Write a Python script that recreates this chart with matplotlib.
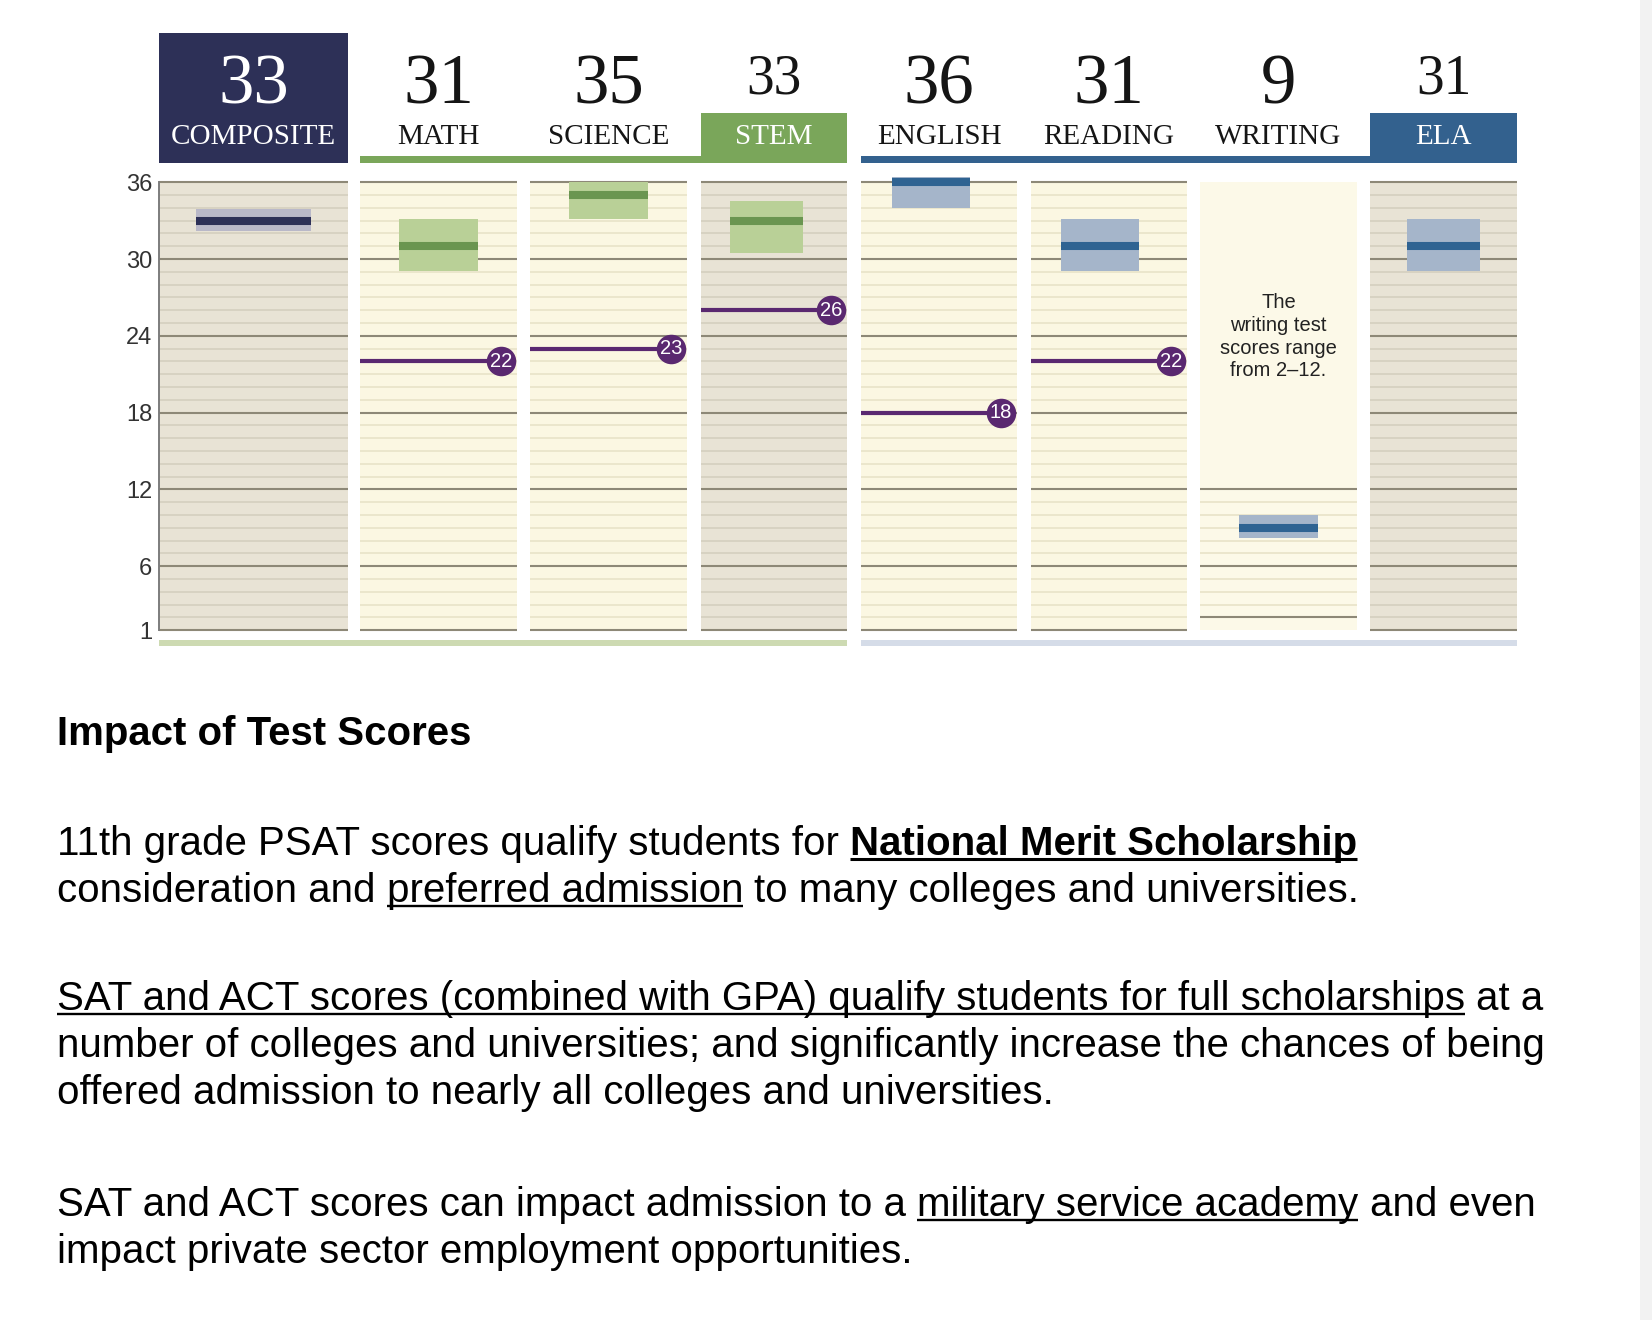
import matplotlib.pyplot as plt
from matplotlib.patches import Rectangle

# ---- data ----
subjects = ["COMPOSITE", "MATH", "SCIENCE", "STEM", "ENGLISH", "READING", "WRITING", "ELA"]
scores = [33, 31, 35, 33, 36, 31, 9, 31]
band_low = [32.2, 29.1, 33.1, 30.5, 34.0, 29.1, 8.2, 29.1]
band_high = [33.9, 33.1, 36.0, 34.5, 36.4, 33.1, 10.0, 33.1]
benchmarks = [None, 22, 23, 26, 18, 22, None, None]
y_ticks = [1, 6, 12, 18, 24, 30, 36]
writing_note = "The\nwriting test\nscores range\nfrom 2\u201312."

title = "Impact of Test Scores"
# each line: (text, bold, underlined, space before)
paragraphs = [
    [[("11th grade PSAT scores qualify students for", False, False, False),
      ("National Merit Scholarship", True, True, True)],
     [("consideration and", False, False, False),
      ("preferred admission", False, True, True),
      ("to many colleges and universities.", False, False, True)]],
    [[("SAT and ACT scores (combined with GPA) qualify students for full scholarships", False, True, False),
      ("at a", False, False, True)],
     [("number of colleges and universities; and significantly increase the chances of being", False, False, False)],
     [("offered admission to nearly all colleges and universities.", False, False, False)]],
    [[("SAT and ACT scores can impact admission to a", False, False, False),
      ("military service academy", False, True, True),
      ("and even", False, False, True)],
     [("impact private sector employment opportunities.", False, False, False)]],
]
line_baselines = [[855, 902], [1010, 1057, 1104], [1216, 1263]]

# ---- layout / style ----
W, H = 1652, 1320
col_left = [159, 360, 530, 701, 861, 1031, 1200, 1370]
col_right = [348, 517, 687, 847, 1017, 1187, 1357, 1517]
band_shift = [0, 0, 0, -8, -8, -9, 0, 0]
col_bg = ["#e8e3d5", "#fbf7e2", "#fbf7e2", "#e8e3d5", "#fbf7e2", "#fbf7e2", "#fcf9e8", "#e8e3d5"]
minor_col = {"#e8e3d5": "#d3cdbd", "#fbf7e2": "#e7e1c6", "#fcf9e8": "#e7e1c6"}
major_col = "#8d8877"
navy = "#2d3057"
green = "#7aa65a"
blue = "#33618e"
purple = "#5a2870"
band_col = ["#b9b8c8", "#b9d097", "#b9d097", "#b9d097", "#a5b5ca", "#a5b5ca", "#a5b5ca", "#a5b5ca"]
line_col = [navy, "#6a9550", "#6a9550", "#6a9550", "#2f6392", "#2f6392", "#2f6392", "#2f6392"]
band_frac = [0.61, 0.5, 0.5, 0.5, 0.5, 0.5, 0.5, 0.5]

serif = "Liberation Serif"
narrow = ["Liberation Sans Narrow", "Liberation Sans"]

fig = plt.figure(figsize=(W / 100, H / 100), dpi=100)
lay = fig.add_axes([0, 0, 1, 1], zorder=0)
lay.set_xlim(0, W)
lay.set_ylim(H, 0)
lay.axis("off")

top_px, bot_px = 182.3, 630.1
ax = fig.add_axes([col_left[0] / W, 1 - bot_px / H, (col_right[-1] - col_left[0]) / W,
                   (bot_px - top_px) / H], zorder=2)
ax.patch.set_alpha(0)
ax.set_xlim(col_left[0], col_right[-1])
ax.set_ylim(1, 36)

# ---- columns ----
for i, name in enumerate(subjects):
    l, r = col_left[i], col_right[i]
    ax.add_patch(Rectangle((l, 1), r - l, 35, color=col_bg[i], zorder=0, lw=0))
    levels = range(2, 13) if name == "WRITING" else range(1, 37)
    for v in levels:
        major = v % 6 == 0 or v in (1, 36) or (name == "WRITING" and v == 2)
        ax.hlines(v, l, r, colors=major_col if major else minor_col[col_bg[i]],
                  lw=1.5 if major else 1.1, zorder=1.5 if major else 1, clip_on=False)
    c = (l + r) / 2 + band_shift[i]
    bw = (r - l) * band_frac[i]
    ax.bar(c, band_high[i] - band_low[i], bottom=band_low[i], width=bw,
           color=band_col[i], zorder=2, clip_on=False)
    ax.hlines(scores[i], c - bw / 2, c + bw / 2, colors=line_col[i], lw=5.8, zorder=3, clip_on=False)
    if benchmarks[i] is not None:
        cx = r - 16
        ax.hlines(benchmarks[i], l, cx, colors=purple, lw=3, zorder=4)
        ax.scatter([cx], [benchmarks[i]], s=410, color=purple, zorder=5, clip_on=False)
        ax.text(cx, benchmarks[i], str(benchmarks[i]), color="white", fontsize=14.5,
                family=narrow, ha="center", va="center", zorder=6)

ax.set_xticks([])
ax.set_yticks(y_ticks)
ax.set_yticklabels([str(v) for v in y_ticks], family=narrow)
ax.tick_params(axis="y", length=0, pad=5, labelsize=17, labelcolor="#333333")
for s in ["top", "right", "bottom"]:
    ax.spines[s].set_visible(False)
ax.spines["left"].set_color("#7d7d7d")
ax.spines["left"].set_linewidth(1.4)

wi = subjects.index("WRITING")
ax.text((col_left[wi] + col_right[wi]) / 2, 293, writing_note, transform=lay.transData,
        ha="center", va="top", fontsize=14.5, family=narrow, color="#222222",
        linespacing=1.25, zorder=6, clip_on=False)

# ---- header ----
lay.add_patch(Rectangle((159, 32.7), 189, 130.6, color=navy, lw=0))
lay.add_patch(Rectangle((360, 156), 341, 7.3, color=green, lw=0))
lay.add_patch(Rectangle((701, 112.7), 146, 50.6, color=green, lw=0))
lay.add_patch(Rectangle((861, 156), 509, 7.3, color=blue, lw=0))
lay.add_patch(Rectangle((1370, 112.7), 147, 50.6, color=blue, lw=0))
for i, name in enumerate(subjects):
    c = (col_left[i] + col_right[i]) / 2
    small = name in ("STEM", "ELA")
    white = name in ("COMPOSITE", "STEM", "ELA")
    lay.text(c, 93.5 if small else 103, str(scores[i]), ha="center", va="baseline",
             fontsize=40 if small else 51, family=serif,
             color="white" if name == "COMPOSITE" else "#151515")
    lay.text(c, 144, name, ha="center", va="baseline", fontsize=21, family=serif,
             color="white" if white else "#151515")

# bottom group bars
lay.add_patch(Rectangle((159, 640), 847 - 159, 5.5, color="#cddab2", lw=0))
lay.add_patch(Rectangle((861, 640), 1517 - 861, 5.5, color="#d5dce8", lw=0))
# right edge strip
lay.add_patch(Rectangle((1640, 0), 12, H, color="#f2f2f2", lw=0))

# ---- text block ----
lay.text(57, 745, title, fontsize=28.9, fontweight="bold", family="Liberation Sans",
         ha="left", va="baseline", color="black")

body_fs = 29.0
space_w = 0.278 * body_fs * 100 / 72
renderer = fig.canvas.get_renderer()
for para, ys in zip(paragraphs, line_baselines):
    for parts, y in zip(para, ys):
        x = 57
        for txt, bold, under, sp in parts:
            if sp:
                x += space_w
            t = lay.text(x, y, txt, fontsize=body_fs, family="Liberation Sans",
                         fontweight="bold" if bold else "normal",
                         ha="left", va="baseline", color="black")
            w = t.get_window_extent(renderer).width
            if under:
                lay.plot([x, x + w], [y + 4, y + 4], color="black",
                         lw=2.2 if bold else 1.7, solid_capstyle="butt")
            x += w

fig.savefig("out.png", dpi=100, facecolor="white")
